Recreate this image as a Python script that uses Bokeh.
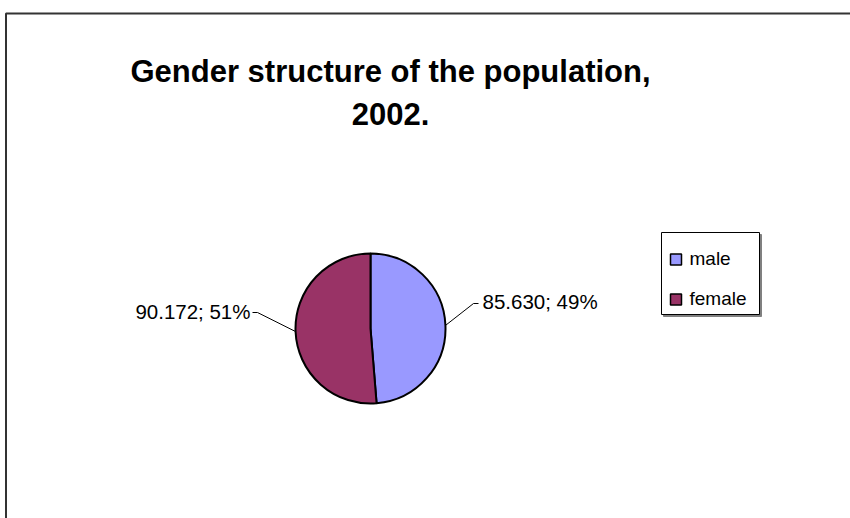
import numpy as np
from bokeh.plotting import figure
from bokeh.models import Range1d, ColumnDataSource
from bokeh.embed import file_html
from bokeh.resources import INLINE
from bokeh.core.properties import value

# ---- data ----
title_lines = ["Gender structure of the population,", "2002."]
categories = ["male", "female"]
values = [85630, 90172]
value_labels = ["85.630", "90.172"]
colors = ["#9999FF", "#993366"]

FONT = value("Liberation Sans")

W, H = 850, 518
p = figure(width=W, height=H, output_backend="svg", toolbar_location=None,
           x_range=Range1d(0, W), y_range=Range1d(-H, 0),
           x_axis_type=None, y_axis_type=None, min_border=0)
p.grid.visible = False
p.outline_line_color = None
p.background_fill_color = "white"
p.border_fill_color = "white"

# outer chart-area border (left + top visible)
p.line(x=[5.5, 5.5, 900], y=[-600, -13, -13], line_color="#333333", line_width=2)

# title
p.text(x=[390, 390], y=[-71, -113], text=title_lines, text_align="center",
       text_baseline="alphabetic", text_font=FONT, text_font_size="31px",
       text_font_style="bold", text_color="black")

# pie
cx, cy, r = 370, -328, 75
vals = np.array(values, dtype=float)
frac = vals / vals.sum()
cum = np.concatenate([[0.0], np.cumsum(frac)])
start = np.pi / 2 - 2 * np.pi * cum[:-1]
end = np.pi / 2 - 2 * np.pi * cum[1:]
src = ColumnDataSource(dict(x=[cx] * len(vals), y=[cy] * len(vals),
                            start=start, end=end, color=colors))
p.wedge(x="x", y="y", radius=r, start_angle="start", end_angle="end",
        direction="clock", fill_color="color", line_color="black",
        line_width=2, source=src)

# data labels with leader lines
mid = (start + end) / 2
edge_x = cx + r * np.cos(mid)
edge_y = cy + r * np.sin(mid)
elbow = [(473, -303), (257, -312)]
tail = [(478, -303), (252, -312)]
p.multi_line(xs=[[edge_x[i], elbow[i][0], tail[i][0]] for i in range(2)],
             ys=[[edge_y[i], elbow[i][1], tail[i][1]] for i in range(2)],
             line_color="black", line_width=1)
label_text = [f"{value_labels[i]}; {round(frac[i] * 100)}%" for i in range(2)]
p.text(x=[482], y=[-301], text=[label_text[0]], text_align="left",
       text_baseline="middle", text_font=FONT, text_font_size="20.5px",
       text_color="black")
p.text(x=[250], y=[-311], text=[label_text[1]], text_align="right",
       text_baseline="middle", text_font=FONT, text_font_size="20.5px",
       text_color="black")

# legend box with shadow
p.quad(left=[663], right=[761], top=[-234], bottom=[-316],
       fill_color="#808080", line_color="#808080")
p.quad(left=[661], right=[759], top=[-232], bottom=[-314],
       fill_color="white", line_color="black", line_width=1)
ly = [-259 - 40 * i for i in range(len(categories))]
p.scatter(x=[675.5] * len(categories), y=ly, marker="square", size=11,
          fill_color=colors, line_color="black", line_width=1.5)
p.text(x=[689] * len(categories), y=[v + 1 for v in ly], text=categories,
       text_align="left", text_baseline="middle", text_font=FONT,
       text_font_size="19px", text_color="black")

open("out.html", "w").write(file_html(p, INLINE))
